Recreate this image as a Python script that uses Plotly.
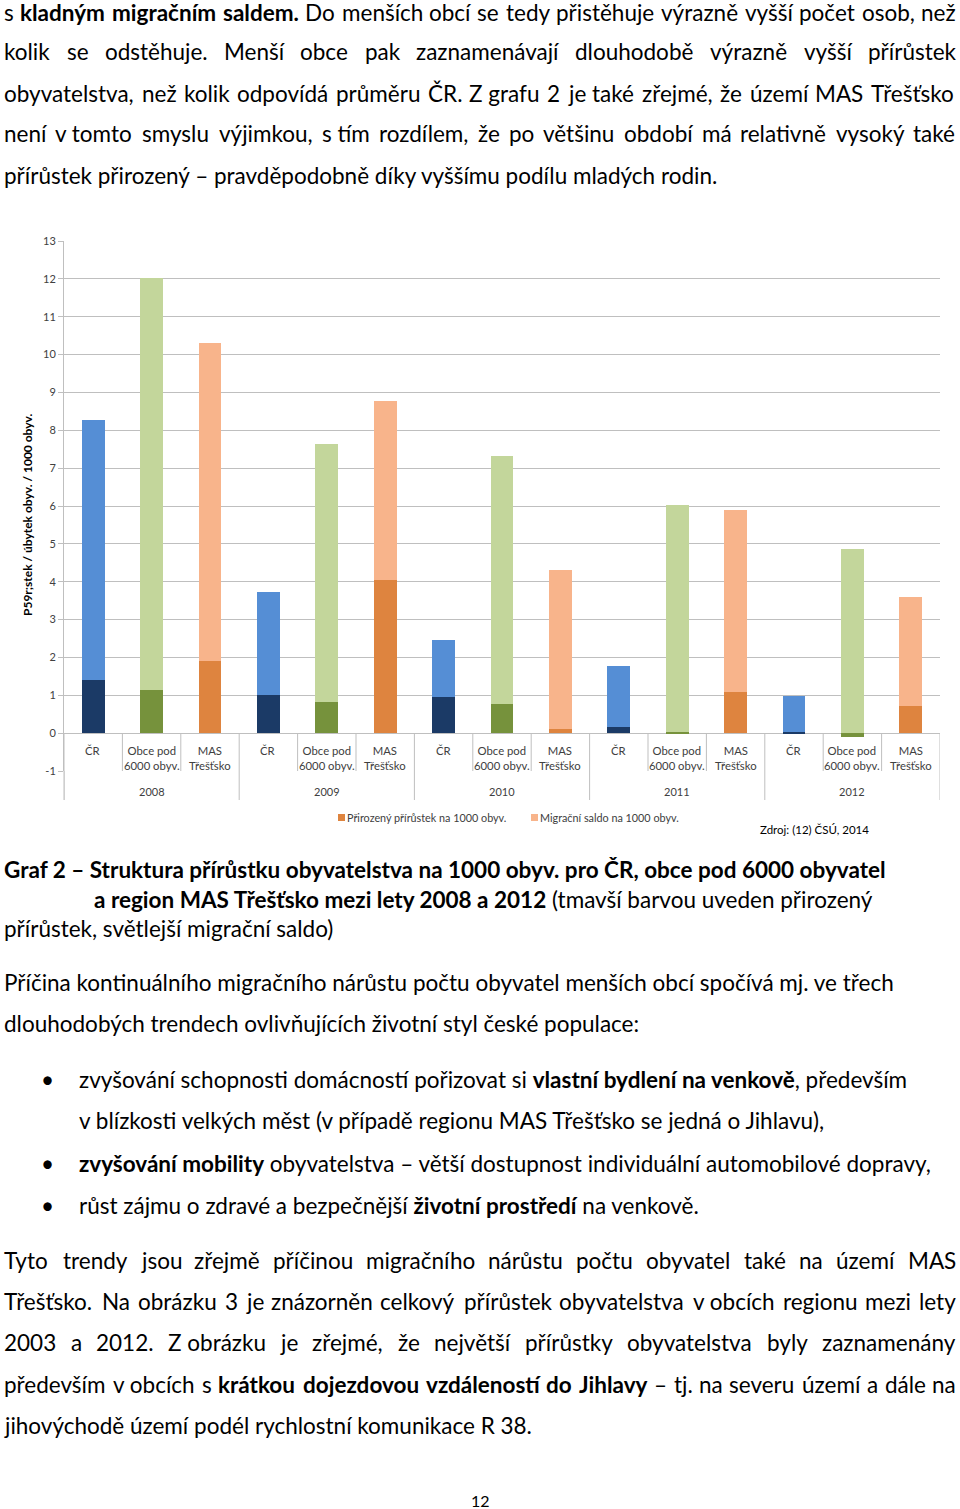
import glob
import os
import struct

import plotly.graph_objects as go

# ---------------- data ----------------
years = ["2008", "2009", "2010", "2011", "2012"]
categories = ["ČR", "Obce pod<br>6000 obyv.", "MAS<br>Třešťsko"]
natural_cr = [1.40, 1.02, 0.96, 0.15, 0.04]
natural_obce = [1.14, 0.82, 0.76, 0.03, -0.10]
natural_mas = [1.90, 4.04, 0.12, 1.08, 0.72]
migration_cr = [6.87, 2.70, 1.49, 1.62, 0.95]
migration_obce = [10.88, 6.83, 6.56, 5.99, 4.86]
migration_mas = [8.40, 4.73, 4.18, 4.81, 2.88]
y_ticks = list(range(-1, 14))

series_natural_name = "Přirozený přírůstek na 1000 obyv."
series_migration_name = "Migrační saldo na 1000 obyv."

dark_cols = ["#1B3A66", "#76923C", "#DE843F"]
light_cols = ["#558ED5", "#C3D69B", "#F8B48B"]

# ---------------- build slot arrays ----------------
xs, nat, mig, cd, cl = [], [], [], [], []
for yi in range(len(years)):
    for ci in range(len(categories)):
        xs.append(yi * len(categories) + ci)
        nat.append([natural_cr, natural_obce, natural_mas][ci][yi])
        mig.append([migration_cr, migration_obce, migration_mas][ci][yi])
        cd.append(dark_cols[ci])
        cl.append(light_cols[ci])

W, H = 960, 1509
L, R, T, B = 64, 940, 241, 771  # plot area in pixels
PW, PH = R - L, B - T


def px(x):
    return (x - L) / PW


def py(y):
    return (B - y) / PH


FONT = "Lato"
TXT = 22.5


# ---------------- font metrics (for justified text) ----------------
def load_widths(path):
    with open(path, "rb") as f:
        data = f.read()

    def u16(o):
        return struct.unpack(">H", data[o:o + 2])[0]

    def u32(o):
        return struct.unpack(">I", data[o:o + 4])[0]

    ntab = u16(4)
    tables = {}
    for i in range(ntab):
        o = 12 + 16 * i
        tables[data[o:o + 4].decode("latin1")] = u32(o + 8)
    upem = u16(tables["head"] + 18)
    nhm = u16(tables["hhea"] + 34)
    hm = tables["hmtx"]
    adv = [u16(hm + 4 * i) for i in range(nhm)]
    cm = tables["cmap"]
    nsub = u16(cm + 2)
    mapping = {}
    for i in range(nsub):
        pid = u16(cm + 4 + 8 * i)
        sub = cm + u32(cm + 8 + 8 * i)
        fmt = u16(sub)
        if fmt == 4 and pid in (0, 3):
            segx2 = u16(sub + 6)
            seg = segx2 // 2
            ends = sub + 14
            starts = ends + segx2 + 2
            deltas = starts + segx2
            ros = deltas + segx2
            for s in range(seg):
                end, start = u16(ends + 2 * s), u16(starts + 2 * s)
                delta, ro = u16(deltas + 2 * s), u16(ros + 2 * s)
                for c in range(start, end + 1):
                    if c == 0xFFFF:
                        continue
                    if ro == 0:
                        g = (c + delta) & 0xFFFF
                    else:
                        g = u16(ros + 2 * s + ro + 2 * (c - start))
                        if g:
                            g = (g + delta) & 0xFFFF
                    mapping.setdefault(c, g)
    return upem, adv, mapping


def find_font(name):
    pats = []
    for base in ["/usr/share/fonts", "/usr/local/share/fonts",
                 os.path.expanduser("~/.fonts"), os.path.expanduser("~/.local/share/fonts")]:
        pats += glob.glob(os.path.join(base, "**", name), recursive=True)
    return pats[0] if pats else None


METRICS = {}
try:
    for key, fname in [(False, "Lato-Regular.ttf"), (True, "Lato-Bold.ttf")]:
        p = find_font(fname)
        if p:
            METRICS[key] = load_widths(p)
except Exception:
    METRICS = {}


def text_width(s, bold, size):
    m = METRICS.get(bold) or METRICS.get(False)
    if not m:
        return len(s) * 0.5 * size
    upem, adv, mapping = m
    w = 0
    for ch in s:
        g = mapping.get(ord(ch))
        if g is None:
            w += 0.5 * upem
        else:
            w += adv[min(g, len(adv) - 1)]
    return w * size / upem


def tokenize(markup):
    words, cur, bold = [], [], False
    i = 0
    buf = ""
    while i < len(markup):
        if markup.startswith("<b>", i):
            if buf:
                cur.append((buf, bold))
                buf = ""
            bold = True
            i += 3
            continue
        if markup.startswith("</b>", i):
            if buf:
                cur.append((buf, bold))
                buf = ""
            bold = False
            i += 4
            continue
        ch = markup[i]
        if ch == " ":
            if buf:
                cur.append((buf, bold))
                buf = ""
            if cur:
                words.append(cur)
            cur = []
        else:
            buf += ch
        i += 1
    if buf:
        cur.append((buf, bold))
    if cur:
        words.append(cur)
    return words


fig = go.Figure()
fig.add_trace(go.Bar(x=xs, y=nat, marker=dict(color=cd, line=dict(width=0)),
                     width=0.39, name=series_natural_name, showlegend=False))
fig.add_trace(go.Bar(x=xs, y=mig, marker=dict(color=cl, line=dict(width=0)),
                     width=0.39, name=series_migration_name, showlegend=False))

ann = []
shapes = []


def add_text(x, y, text, size, anchor="left", color="#000000", **kw):
    ann.append(dict(x=px(x), y=py(y), xref="paper", yref="paper", text=text,
                    showarrow=False, font=dict(family=FONT, size=size, color=color),
                    xanchor=anchor, yanchor="middle", borderpad=0, borderwidth=0, **kw))


# category labels (top aligned) and dividers
n = len(xs)
for i in range(n):
    ann.append(dict(x=xs[i], xref="x", y=py(744), yref="paper",
                    text=categories[i % 3], showarrow=False,
                    font=dict(family=FONT, size=11.3, color="#404040"),
                    xanchor="center", yanchor="top", borderpad=0, borderwidth=0))
for k in range(n + 1):
    xb = k - 0.5
    is_year = (k % 3 == 0)
    shapes.append(dict(type="line", xref="x", yref="paper", x0=xb, x1=xb,
                       y0=py(733), y1=py(800 if is_year else 771),
                       line=dict(color="#BFBFBF", width=1)))
for yi, yr in enumerate(years):
    ann.append(dict(x=yi * 3 + 1, xref="x", y=py(791), yref="paper", text=yr,
                    showarrow=False, font=dict(family=FONT, size=11, color="#404040"),
                    xanchor="center", yanchor="middle"))

shapes.append(dict(type="line", xref="paper", yref="paper", x0=0, x1=0,
                   y0=py(771), y1=py(800), line=dict(color="#BFBFBF", width=1)))

# y axis title
add_text(27, 515, "<b>P59r;stek / úbytek obyv. / 1000 obyv.</b>", 12, anchor="center",
         textangle=-90)

# legend
for sx, col, name in [(338, dark_cols[2], series_natural_name), (531, light_cols[2], series_migration_name)]:
    shapes.append(dict(type="rect", xref="paper", yref="paper",
                       x0=px(sx), x1=px(sx + 7), y0=py(821), y1=py(814),
                       fillcolor=col, line=dict(width=0)))
    add_text(sx + 9, 817, name, 10.8, color="#404040")

add_text(760, 829, "Zdroj: (12) ČSÚ, 2014", 11.5)

# ---------------- page text ----------------
NB = "\u00a0"
page_lines = [
    (4, 12, "s <b>kladným migračním saldem.</b> Do menších obcí se tedy přistěhuje výrazně vyšší počet osob, než", True),
    (4, 52, "kolik se odstěhuje. Menší obce pak zaznamenávají dlouhodobě výrazně vyšší přírůstek", True),
    (4, 93, f"obyvatelstva, než kolik odpovídá průměru ČR. Z{NB}grafu 2 je také zřejmé, že území MAS Třešťsko", True),
    (4, 134, f"není v{NB}tomto smyslu výjimkou, s{NB}tím rozdílem, že po většinu období má relativně vysoký také", True),
    (4, 176, "přírůstek přirozený – pravděpodobně díky vyššímu podílu mladých rodin.", False),
    (4, 869, "<b>Graf 2 – Struktura přírůstku obyvatelstva na 1000 obyv. pro ČR, obce pod 6000 obyvatel</b>", False),
    (94, 899, "<b>a region MAS Třešťsko mezi lety 2008 a 2012</b> (tmavší barvou uveden přirozený", False),
    (4, 928, "přírůstek, světlejší migrační saldo)", False),
    (4, 982, "Příčina kontinuálního migračního nárůstu počtu obyvatel menších obcí spočívá mj. ve třech", False),
    (4, 1023, "dlouhodobých trendech ovlivňujících životní styl české populace:", False),
    (79, 1079, "zvyšování schopnosti domácností pořizovat si <b>vlastní bydlení na venkově</b>, především", False),
    (79, 1120, "v blízkosti velkých měst (v případě regionu MAS Třešťsko se jedná o Jihlavu),", False),
    (79, 1163, "<b>zvyšování mobility</b> obyvatelstva – větší dostupnost individuální automobilové dopravy,", False),
    (79, 1205, "růst zájmu o zdravé a bezpečnější <b>životní prostředí</b> na venkově.", False),
    (4, 1260, "Tyto trendy jsou zřejmě příčinou migračního nárůstu počtu obyvatel také na území MAS", True),
    (4, 1301, f"Třešťsko. Na obrázku 3 je znázorněn celkový přírůstek obyvatelstva v{NB}obcích regionu mezi lety", True),
    (4, 1342, f"2003 a 2012. Z{NB}obrázku je zřejmé, že největší přírůstky obyvatelstva byly zaznamenány", True),
    (4, 1384, f"především v{NB}obcích s <b>krátkou dojezdovou vzdáleností do Jihlavy</b> – tj. na severu území a dále na", True),
    (4, 1425, "jihovýchodě území podél rychlostní komunikace R 38.", False),
]
RIGHT_EDGE = 956
for x0, y0, t, just in page_lines:
    if just and METRICS:
        words = tokenize(t)
        widths = [sum(text_width(s, b, TXT) for s, b in w) for w in words]
        gap = (RIGHT_EDGE - x0 - sum(widths)) / max(len(words) - 1, 1)
        xc = x0
        for w, wd in zip(words, widths):
            markup = "".join(f"<b>{s}</b>" if b else s for s, b in w)
            add_text(xc, y0, markup, TXT)
            xc += wd + gap
    else:
        add_text(x0, y0, t, TXT)

for yb in [1079, 1163, 1205]:
    add_text(47, yb, "•", TXT, anchor="center")
add_text(480, 1500, "12", 16, anchor="center")

fig.update_layout(
    width=W, height=H, autosize=False,
    margin=dict(l=L, r=W - R, t=T, b=H - B, pad=0),
    paper_bgcolor="white", plot_bgcolor="white",
    barmode="relative", bargap=0,
    showlegend=False,
    annotations=ann, shapes=shapes,
    xaxis=dict(range=[-0.5, n - 0.5], showticklabels=False, showgrid=False,
               zeroline=False, showline=False, fixedrange=True),
    yaxis=dict(range=[-1, 13], tickvals=y_ticks, ticktext=[str(v) for v in y_ticks],
               showgrid=True, gridcolor="#BFBFBF",
               gridwidth=1, zeroline=False, showline=True, linecolor="#BFBFBF",
               linewidth=1, ticks="outside", ticklen=5, tickcolor="#BFBFBF",
               tickfont=dict(family=FONT, size=11, color="#404040"), fixedrange=True),
)

fig.write_html("out.html", config={"displayModeBar": False},
               post_script="document.body.style.margin='0';")
